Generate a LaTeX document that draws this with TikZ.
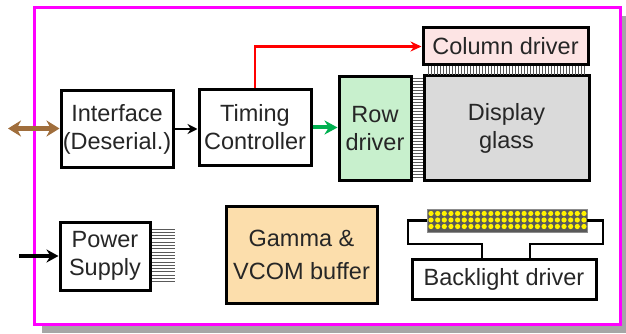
\documentclass[tikz,border=0pt]{standalone}
\usepackage{fontspec}
\setmainfont{Liberation Sans}
\usetikzlibrary{arrows.meta,positioning}
\definecolor{framecol}{RGB}{255,0,255}
\definecolor{hostbrown}{RGB}{160,110,60}
\definecolor{colfill}{RGB}{253,228,228}
\definecolor{rowfill}{RGB}{200,240,205}
\definecolor{glassfill}{RGB}{218,218,218}
\definecolor{gammafill}{RGB}{252,222,172}
\definecolor{rowgreen}{RGB}{0,176,80}
\tikzset{
  blk/.style={draw=black, line width=3pt, fill=white, align=center, inner sep=0pt,
    font=\fontsize{23.5}{28}\selectfont, text=black!85},
  hatch/.style={black!65, line width=0.9pt},
  wire/.style={black, line width=2.5pt},
}
\begin{document}
\begin{tikzpicture}[x=1pt,y=-1pt]
\useasboundingbox (0,0) rectangle (626,334);
% outer frame with shadow
\fill[black!35] (42,16) rectangle (626,333);
\draw[framecol, line width=3pt, fill=white] (34,8) rectangle (620,324);

% blocks
\node[blk, minimum width=112, minimum height=76] (iface) at (117,129) {Interface\\(Deserial.)};
\node[blk, minimum width=112, minimum height=75] (tcon) at (255,127.5) {Timing\\Controller};
\node[blk, fill=colfill, minimum width=165, minimum height=37] (coldrv) at (505.5,46.5) {Column driver};
\node[blk, fill=rowfill, minimum width=72, minimum height=103] (rowdrv) at (375,128.5) {Row\\driver};
\node[blk, fill=glassfill, minimum width=165, minimum height=104] (glass) at (506.5,128) {Display\\glass};
\node[blk, minimum width=90, minimum height=68] (psu) at (105,256) {Power\\Supply};
\node[blk, fill=gammafill, minimum width=151, minimum height=97,
  font=\fontsize{23.5}{33}\selectfont] (gamma) at (301.5,254.5) {Gamma \&\\VCOM buffer};
\node[blk, minimum width=184, minimum height=40] (bldrv) at (504,279) {Backlight driver};
\node[draw=black!45, line width=0.8pt, fill=black!65, minimum width=160, minimum height=23,
  inner sep=0pt] (led) at (507,220.5) {};

% flex connectors
\foreach \y in {78.5,81.5,...,179} \draw[hatch] (rowdrv.east |- 0,\y) -- (glass.west |- 0,\y);
\foreach \x in {428,431,...,586} \draw[hatch] (\x,66) -- (\x,75);
\foreach \y in {229,232.3,...,282} \draw[hatch] (psu.east |- 0,\y) -- ++(23,0);

% LEDs
\foreach \i in {0,...,23}
  \foreach \j in {0,1,2}
    \fill[yellow] (431+\i*6.65, 213.5+\j*6.5) circle (2.6);

% wiring
\draw[wire] (led.west) -| (408,244) -| ([xshift=-22]bldrv.north);
\draw[wire] (led.east) -| (603,244) -| ([xshift=26]bldrv.north);

% signals
\coordinate (hostio) at (8,128.5);
\coordinate (pwrin) at (19,256);
\draw[hostbrown, line width=5pt, {Stealth[length=13,width=16]}-{Stealth[length=13,width=16]}]
  (hostio) -- (iface.west |- hostio);
\draw[line width=4pt, -{Stealth[length=12,width=13]}] (pwrin) -- (psu.west);
\draw[line width=2.5pt, -{Stealth[length=10,width=10]}] (iface.east) -- (iface.east -| tcon.west);
\draw[rowgreen, line width=4pt, -{Stealth[length=13,width=14]}] (tcon.east) -- (tcon.east -| rowdrv.west);
\draw[red, line width=2.5pt, -{Stealth[length=11,width=10]}] (tcon.north) |- (coldrv.west);
\end{tikzpicture}
\end{document}
